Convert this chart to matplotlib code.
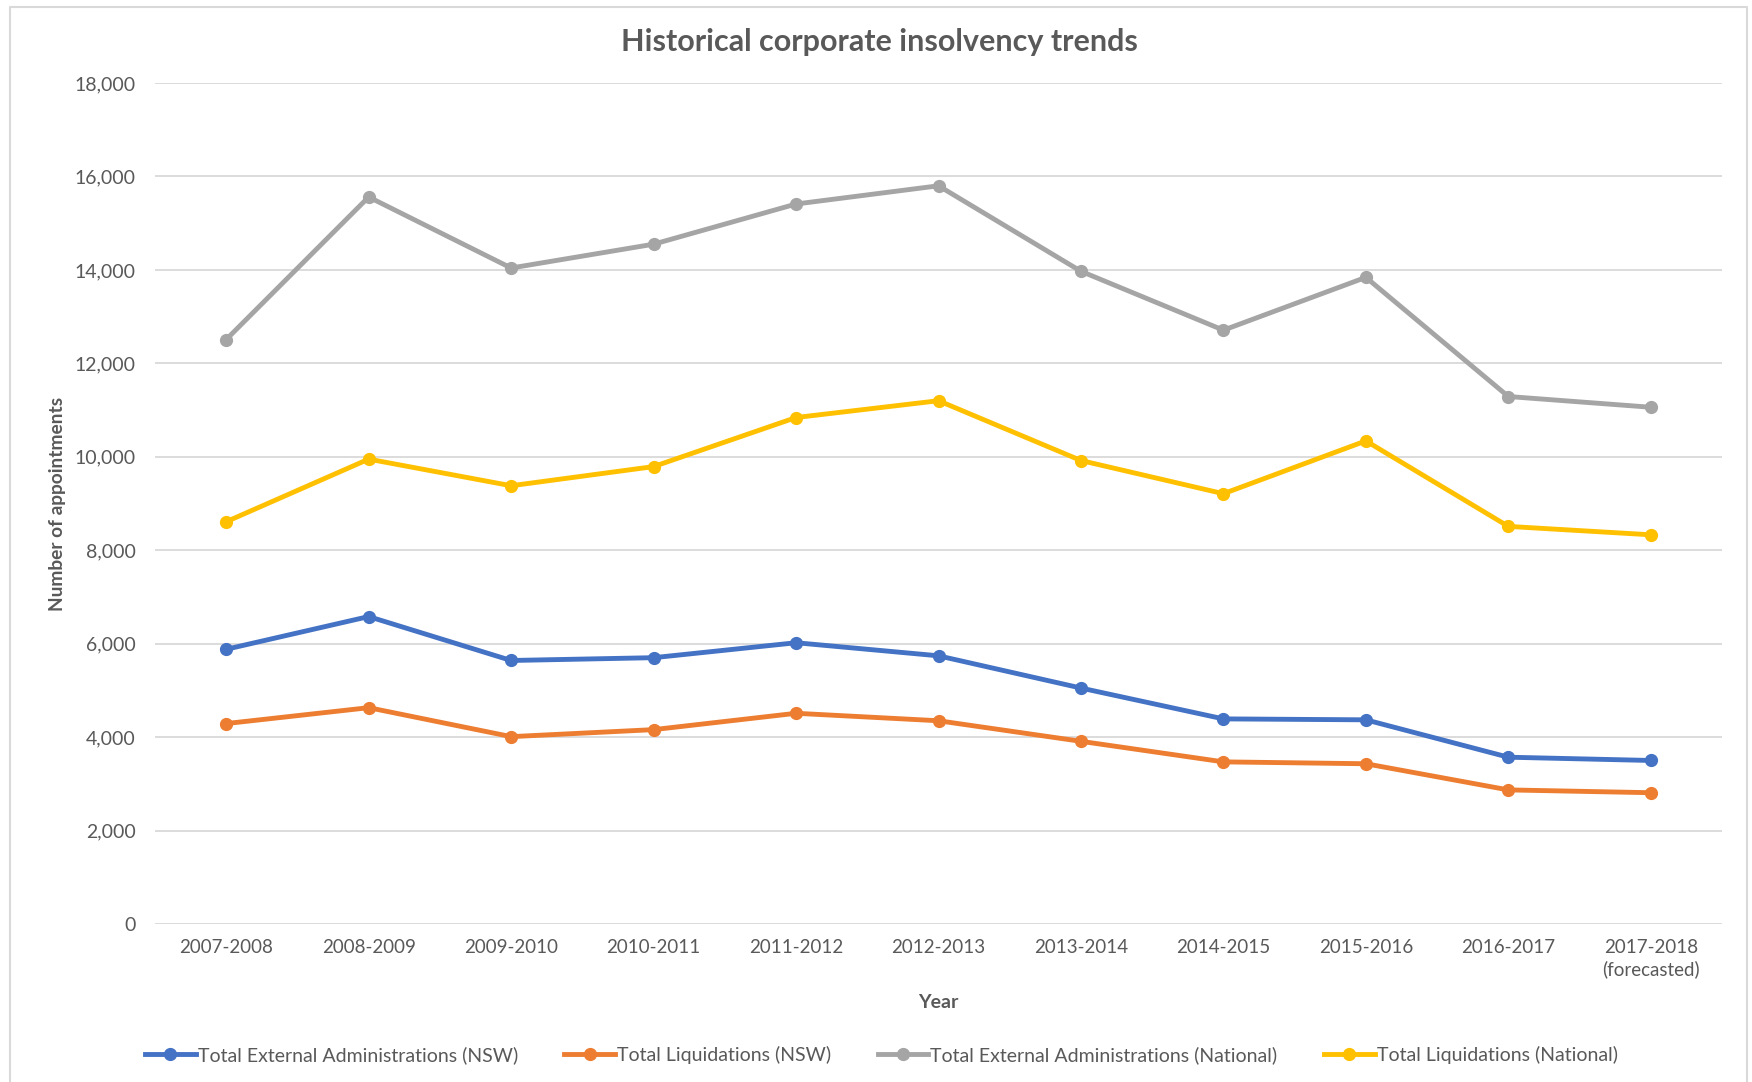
import matplotlib
matplotlib.use("Agg")
import matplotlib.pyplot as plt
from matplotlib.lines import Line2D
from matplotlib.ticker import FuncFormatter, MultipleLocator

years = ["2007-2008", "2008-2009", "2009-2010", "2010-2011", "2011-2012",
         "2012-2013", "2013-2014", "2014-2015", "2015-2016", "2016-2017",
         "2017-2018\n(forecasted)"]
ext_admin_nsw = [5880, 6580, 5640, 5700, 6020, 5740, 5050, 4390, 4370, 3570, 3500]
liquid_nsw = [4290, 4630, 4010, 4160, 4510, 4350, 3910, 3470, 3430, 2870, 2810]
ext_admin_nat = [12510, 15560, 14040, 14550, 15410, 15800, 13970, 12710, 13840, 11290, 11060]
liquid_nat = [8610, 9950, 9380, 9790, 10840, 11200, 9920, 9210, 10340, 8510, 8330]

series = [
    ("Total External Administrations (NSW)", ext_admin_nsw, "#4472C4"),
    ("Total Liquidations (NSW)", liquid_nsw, "#ED7D31"),
    ("Total External Administrations (National)", ext_admin_nat, "#A5A5A5"),
    ("Total Liquidations (National)", liquid_nat, "#FFC000"),
]

plt.rcParams['font.family'] = ['Lato', 'DejaVu Sans']
TXT = "#595959"

W, H = 1752, 1082
fig = plt.figure(figsize=(W / 100, H / 100), dpi=100)
ax = fig.add_axes([155 / W, 1 - 924 / H, (1722 - 155) / W, (924 - 83) / H])

x = list(range(len(years)))
for name, vals, col in series:
    ax.plot(x, vals, color=col, lw=3.5, marker="o", ms=8.5, label=name,
            solid_capstyle="round", solid_joinstyle="round", zorder=3)

ax.set_xlim(-0.5, len(years) - 0.5)
ax.set_ylim(0, 18000)
ax.yaxis.set_major_locator(MultipleLocator(2000))
ax.yaxis.set_major_formatter(FuncFormatter(lambda v, p: f"{int(v):,}"))
ax.set_xticks(x)
ax.set_xticklabels(years, linespacing=1.3)
ax.grid(axis="y", color="#D9D9D9", lw=1.3, zorder=0)
for s in ax.spines.values():
    s.set_visible(False)
ax.tick_params(axis="both", length=0, colors=TXT)
ax.tick_params(axis="y", pad=14, labelsize=14)
ax.tick_params(axis="x", pad=11, labelsize=13.5)

ax.set_ylabel("Number of appointments", fontsize=13.8, fontweight="bold", color=TXT)
ax.yaxis.set_label_coords(-0.057, 0.5)
ax.set_xlabel("Year", fontsize=14, fontweight="bold", color=TXT)
ax.xaxis.set_label_coords(0.5, -0.083)

fig.text(0.502, 1 - 42 / H, "Historical corporate insolvency trends",
         ha="center", va="center", fontsize=22, fontweight="bold", color=TXT)

handles = [Line2D([0], [0], color=c, lw=3.5, marker="o", ms=8.5) for _, _, c in series]
leg = fig.legend(handles, [n for n, _, _ in series], loc="center",
                 bbox_to_anchor=(0.503, 1 - 1055 / H), ncol=4, frameon=False,
                 fontsize=14, handlelength=2.6, handletextpad=0.1,
                 columnspacing=2.4, labelcolor=TXT)

# chart frame
fx0, fx1, fy1 = 10 / W, 1747 / W, 1 - 7 / H
fig.add_artist(Line2D([fx0, fx0, fx1, fx1], [0, fy1, fy1, 0], color="#D9D9D9",
                      lw=1.5, transform=fig.transFigure))

fig.savefig("out.png", dpi=100, facecolor="white")
